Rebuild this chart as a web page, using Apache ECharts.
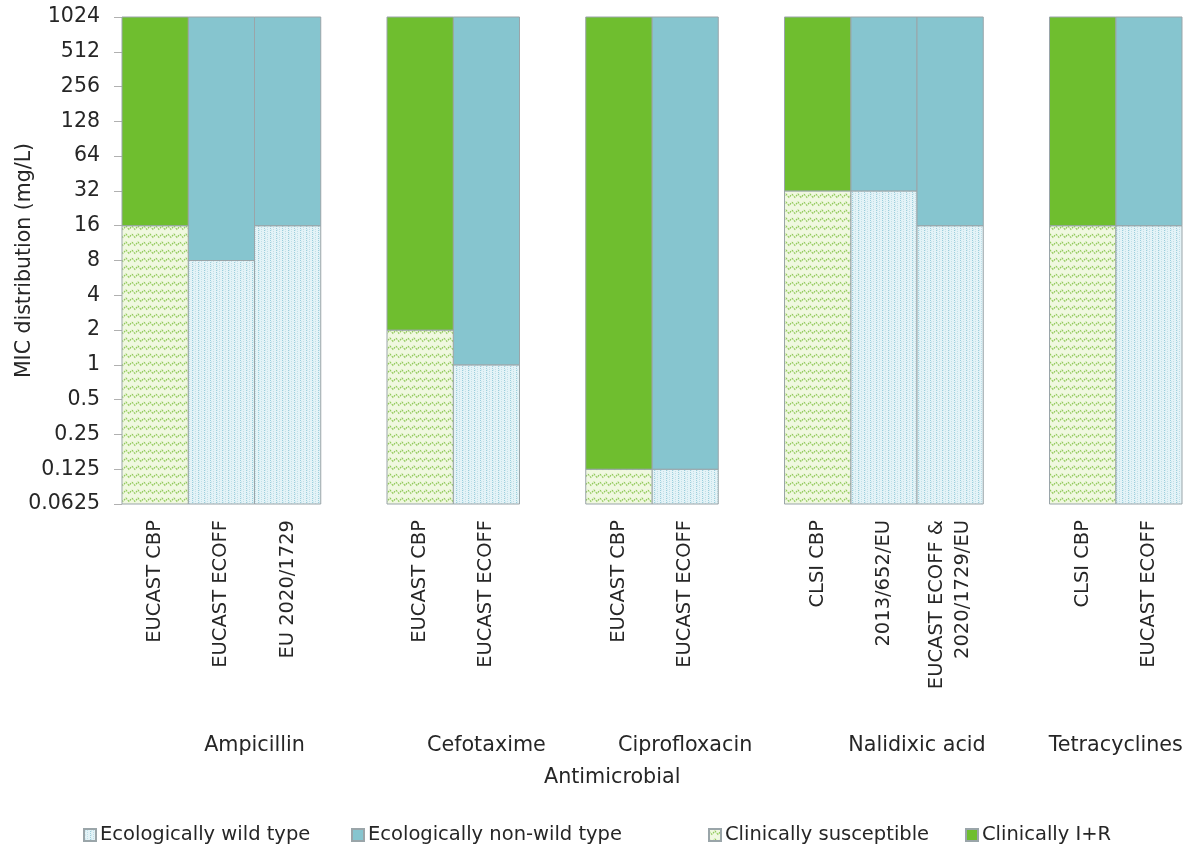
<!DOCTYPE html>
<html><head><meta charset="utf-8">
<script src="https://cdn.jsdelivr.net/npm/echarts@6/dist/echarts.min.js"></script>
<style>html,body{margin:0;padding:0;background:#fff}#c{width:1195px;height:852px}</style>
</head><body><div id="c"></div>
<script>
// ---- data ----
const categories = ['EUCAST CBP','EUCAST ECOFF','EU 2020/1729','',
  'EUCAST CBP','EUCAST ECOFF','',
  'EUCAST CBP','EUCAST ECOFF','',
  'CLSI CBP','2013/652/EU','EUCAST ECOFF &\n2020/1729/EU','',
  'CLSI CBP','EUCAST ECOFF'];
const groupOfCategory = ['Ampicillin','Ampicillin','Ampicillin','Ampicillin',
  'Cefotaxime','Cefotaxime','Cefotaxime',
  'Ciprofloxacin','Ciprofloxacin','Ciprofloxacin',
  'Nalidixic acid','Nalidixic acid','Nalidixic acid','Nalidixic acid',
  'Tetracyclines','Tetracyclines'];
// breakpoints (mg/L): upper edge of the lower segment
const wildType    = [null, 8, 16, null, null, 1, null, null, 0.125, null, null, 32, 16, null, null, 16];
const susceptible = [16, null, null, null, 2, null, null, 0.125, null, null, 32, null, null, null, 16, null];
const rangeMin = 0.0625;
const rangeMax = 1024;
const yTickLabels = ['0.0625','0.125','0.25','0.5','1','2','4','8','16','32','64','128','256','512','1024'];
const seriesNames = ['Ecologically wild type','Ecologically non-wild type','Clinically susceptible','Clinically I+R'];

// ---- patterns ----
function wavePattern(){
  const c=document.createElement('canvas'); c.width=12; c.height=8;
  const g=c.getContext('2d');
  g.fillStyle='#f0f8e0'; g.fillRect(0,0,12,8);
  g.strokeStyle='#8cc753'; g.lineWidth=1.1;
  g.setLineDash([2,1]);
  g.beginPath(); g.moveTo(0,2); g.lineTo(3,5.5); g.lineTo(6,2); g.lineTo(9,5.5); g.lineTo(12,2); g.stroke();
  return c;
}
function dotPattern(){
  const c=document.createElement('canvas'); c.width=6; c.height=4;
  const g=c.getContext('2d');
  g.fillStyle='#e4f3f7'; g.fillRect(0,0,6,4);
  g.fillStyle='#9ccfdc'; g.fillRect(0,0,1,1); g.fillRect(0,2,1,1);
  g.fillStyle='#bfe0e9'; g.fillRect(3,1,1,1); g.fillRect(3,3,1,1);
  g.fillStyle='#d0e9f0'; g.fillRect(1,1,1,2);
  return c;
}
const wave = {image: wavePattern(), repeat:'repeat'};
const dots = {image: dotPattern(), repeat:'repeat'};

// ---- build series data ----
const wildData=[], nonWildData=[], suscData=[], irData=[];
categories.forEach((c,i)=>{
  if (wildType[i]!=null){ wildData.push([i, rangeMin, wildType[i]]); nonWildData.push([i, wildType[i], rangeMax]); }
  if (susceptible[i]!=null){ suscData.push([i, rangeMin, susceptible[i]]); irData.push([i, susceptible[i], rangeMax]); }
});

// group label positions (half-slot category axis)
const half = new Array(categories.length*2+1).fill('');
const groups = [];
groupOfCategory.forEach((g,i)=>{ let gr=groups.find(x=>x.name===g); if(!gr){gr={name:g,start:i,end:i};groups.push(gr);} gr.end=i; });
groups.forEach(gr=>{ half[gr.start+gr.end+1]=gr.name; });

function renderRect(params, api){
  const x=api.value(0), lo=api.value(1), hi=api.value(2);
  const pTop=api.coord([x,hi]), pBot=api.coord([x,lo]);
  const w=api.size([1,0])[0];
  return {type:'rect', shape:{x:pTop[0]-w/2, y:pTop[1], width:w, height:pBot[1]-pTop[1]}, style: api.style()};
}
const FONT='DejaVu Sans';
const TXT='#262626';
const border={borderColor:'#9aa5a9', borderWidth:1};
function mk(name, data, color){
  return {type:'custom', name, data, renderItem: renderRect, xAxisIndex:0, yAxisIndex:0,
    encode:{x:0, y:[1,2]}, itemStyle:Object.assign({color}, border)};
}
const legendLefts=[78, 346, 703, 960];
const legends = seriesNames.map((n,i)=>({
  data:[n], top:820, left:legendLefts[i], icon:'rect', itemWidth:12, itemHeight:12,
  textStyle:{fontSize:19.5, color:TXT, fontFamily:FONT, padding:[0,0,0,-1]}
}));

const chart = echarts.init(document.getElementById('c'));
chart.setOption({
  animation:false,
  textStyle:{fontFamily:FONT},
  grid:{left:122, right:13, top:17, bottom:348, containLabel:false, outerBoundsMode:'none'},
  xAxis:[{
    type:'category', data:categories, position:'bottom',
    axisLine:{show:false}, axisTick:{show:false}, splitLine:{show:false},
    axisLabel:{rotate:90, interval:0, fontSize:19.5, color:TXT, margin:16, fontFamily:FONT, lineHeight:26}
  },{
    type:'category', data:half, boundaryGap:false, position:'bottom',
    axisLine:{show:false}, axisTick:{show:false}, splitLine:{show:false},
    axisLabel:{interval:0, fontSize:20.7, color:TXT, margin:231, fontFamily:FONT, hideOverlap:false}
  }],
  yAxis:{
    type:'log', logBase:2, min:rangeMin, max:rangeMax, interval:1,
    axisLine:{show:false}, splitLine:{show:false},
    axisTick:{show:true, inside:false, length:8, lineStyle:{color:'#b0b0b0'}},
    axisLabel:{fontSize:20.5, color:TXT, margin:22, fontFamily:FONT,
      formatter:(v)=>yTickLabels[Math.round(Math.log2(v))+4]},
    name:'MIC distribution (mg/L)', nameLocation:'middle', nameGap:87, nameMoveOverlap:false,
    nameTextStyle:{fontSize:20.5, color:TXT, fontFamily:FONT}
  },
  legend:legends,
  graphic:[{type:'text', left:544, top:767, style:{text:'Antimicrobial', fontSize:20.7, fill:TXT, fontFamily:FONT}}],
  series:[
    mk(seriesNames[0], wildData, dots),
    mk(seriesNames[1], nonWildData, '#86c5cf'),
    mk(seriesNames[2], suscData, wave),
    mk(seriesNames[3], irData, '#6fbe2f')
  ]
});
</script></body></html>
